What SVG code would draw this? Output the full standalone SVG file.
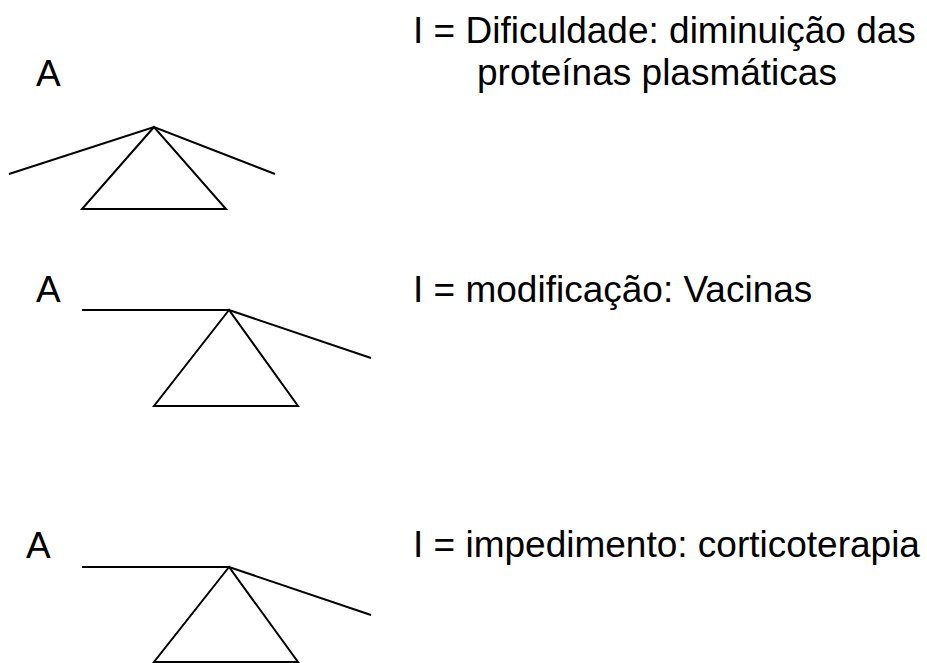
<svg xmlns="http://www.w3.org/2000/svg" width="927" height="663" viewBox="0 0 927 663">
<style>
text{font-family:"Liberation Sans",Arial,sans-serif;font-size:37px;fill:#000}
.ln{stroke:#000;stroke-width:2;fill:none;stroke-linejoin:miter}
</style>
<rect width="927" height="663" fill="#fff"/>
<g id="balance1">
<text x="36" y="86">A</text>
<polyline class="ln" points="9,174 154,127 275,174"/>
<polygon class="ln" points="154,127 82,209 226,209"/>
</g>
<g id="balance2">
<text x="36" y="302">A</text>
<polyline class="ln" points="82,310 229,310 371,358"/>
<polygon class="ln" points="229,310 154,406 298,406"/>
</g>
<g id="balance3">
<text x="26" y="558">A</text>
<polyline class="ln" points="82,567 229,567 371,615"/>
<polygon class="ln" points="229,567 154,662 298,662"/>
</g>
<g id="labels">
<text x="413" y="43">I = Dificuldade: diminuição das</text>
<text x="477" y="85">proteínas plasmáticas</text>
<text x="413" y="302">I = modificação: Vacinas</text>
<text x="413" y="557">I = impedimento: corticoterapia</text>
</g>
</svg>
